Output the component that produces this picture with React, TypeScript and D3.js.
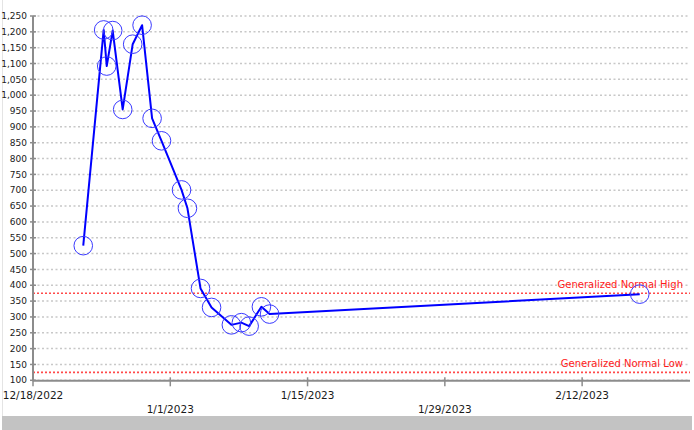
import React from "react";
import * as d3 from "d3";

const pointDates: string[] = [
  "2022-12-23T03:00", "2022-12-25T05:00", "2022-12-25T12:30", "2022-12-26T03:00",
  "2022-12-27T03:30", "2022-12-28T04:00", "2022-12-29T03:00", "2022-12-30T03:30",
  "2022-12-31T02:30", "2023-01-02T03:30", "2023-01-02T18:00", "2023-01-04T02:00",
  "2023-01-05T05:00", "2023-01-07T05:30", "2023-01-08T06:00", "2023-01-09T01:00",
  "2023-01-10T07:00", "2023-01-11T03:00", "2023-02-17T21:00",
];
const pointValues: number[] = [
  525, 1206, 1092, 1204, 955, 1161, 1221, 927, 856, 701, 643, 390,
  330, 275, 282, 271, 332, 309, 372,
];
const yTicks: number[] = d3.range(100, 1251, 50);
const xTickDates: string[] = ["2022-12-18", "2023-01-01", "2023-01-15", "2023-01-29", "2023-02-12"];
const xDomain: string[] = ["2022-12-18T00:00", "2023-02-23T00:00"];
const yDomain: number[] = [100, 1250];
const normalHigh = 375;
const normalLow = 125;
const normalHighLabel = "Generalized Normal High";
const normalLowLabel = "Generalized Normal Low";

const parseDT = d3.timeParse("%Y-%m-%dT%H:%M");
const parseD = d3.timeParse("%Y-%m-%d");
const fmtX = d3.timeFormat("%-m/%-d/%Y");
const fmtY = d3.format(",");

export default function App() {
  const W = 694, H = 430;
  const left = 33, right = 690, top = 16, bottom = 380.3;
  const x = d3.scaleTime()
    .domain([parseDT(xDomain[0]) as Date, parseDT(xDomain[1]) as Date])
    .range([left, right]);
  const y = d3.scaleLinear().domain(yDomain).range([bottom, top]);
  const data = pointDates.map((d, i) => ({ date: parseDT(d) as Date, value: pointValues[i] }));
  const line = d3.line<{ date: Date; value: number }>()
    .x(d => x(d.date))
    .y(d => y(d.value));
  const axisColor = "#8c8c8c";
  const font = "'DejaVu Sans', Tahoma, sans-serif";

  return (
    <div style={{ position: "fixed", left: 0, top: 0, width: W, height: H, background: "#fff" }}>
      <svg width={W} height={H} style={{ display: "block" }}>
        <rect x={0} y={0} width={W} height={H} fill="#fff" />
        {/* left frame line */}
        <line x1={2.5} x2={2.5} y1={0} y2={416} stroke="#e4e4e4" strokeWidth={1} />
        {/* gridlines */}
        {yTicks.map(t => (
          <line key={"g" + t} x1={left} x2={right} y1={y(t)} y2={y(t)}
            stroke="#c8c8c8" strokeWidth={1.5} strokeDasharray="2,2.5" />
        ))}
        {/* normal ranges */}
        <line x1={left} x2={right} y1={y(normalHigh)} y2={y(normalHigh)}
          stroke="#ff4a4a" strokeWidth={1.6} strokeDasharray="2,2" />
        <line x1={left} x2={right} y1={y(normalLow)} y2={y(normalLow)}
          stroke="#ff4a4a" strokeWidth={1.6} strokeDasharray="2,2" />
        <text x={683} y={y(normalHigh) - 5} textAnchor="end" fill="#ff1a1a"
          fontFamily={font} fontSize={10}>{normalHighLabel}</text>
        <text x={683} y={y(normalLow) - 5} textAnchor="end" fill="#ff1a1a"
          fontFamily={font} fontSize={10}>{normalLowLabel}</text>
        {/* y axis */}
        <line x1={left} x2={left} y1={top} y2={bottom + 1} stroke={axisColor} strokeWidth={2} />
        {yTicks.map(t => (
          <g key={"y" + t}>
            <line x1={left - 3} x2={left + 3} y1={y(t)} y2={y(t)} stroke={axisColor} strokeWidth={1.5} />
            <text x={27} y={y(t)} dy="0.35em" textAnchor="end" fill="#1a1a1a"
              fontFamily={font} fontSize={9}>{fmtY(t)}</text>
          </g>
        ))}
        {/* x axis */}
        <line x1={left} x2={right} y1={bottom + 0.5} y2={bottom + 0.5} stroke={axisColor} strokeWidth={2} />
        {xTickDates.map((d, i) => {
          const dt = parseD(d) as Date;
          const xx = x(dt);
          return (
            <g key={"x" + d}>
              <line x1={xx} x2={xx} y1={bottom - 3} y2={bottom + 6} stroke={axisColor} strokeWidth={1.5} />
              <text x={xx} y={i % 2 === 0 ? 395 : 409} dy="0.35em" textAnchor="middle"
                fill="#1a1a1a" fontFamily={font} fontSize={10.5}>{fmtX(dt)}</text>
            </g>
          );
        })}
        {/* series */}
        <path d={line(data) || ""} fill="none" stroke="#0000ff" strokeWidth={2} strokeLinejoin="round" />
        {data.map((d, i) => (
          <circle key={"c" + i} cx={x(d.date)} cy={y(d.value)} r={9.3}
            fill="none" stroke="#3a3aff" strokeWidth={1} />
        ))}
        {/* scrollbar */}
        <rect x={2} y={416} width={690} height={14} fill="#c3c3c3" />
      </svg>
    </div>
  );
}
